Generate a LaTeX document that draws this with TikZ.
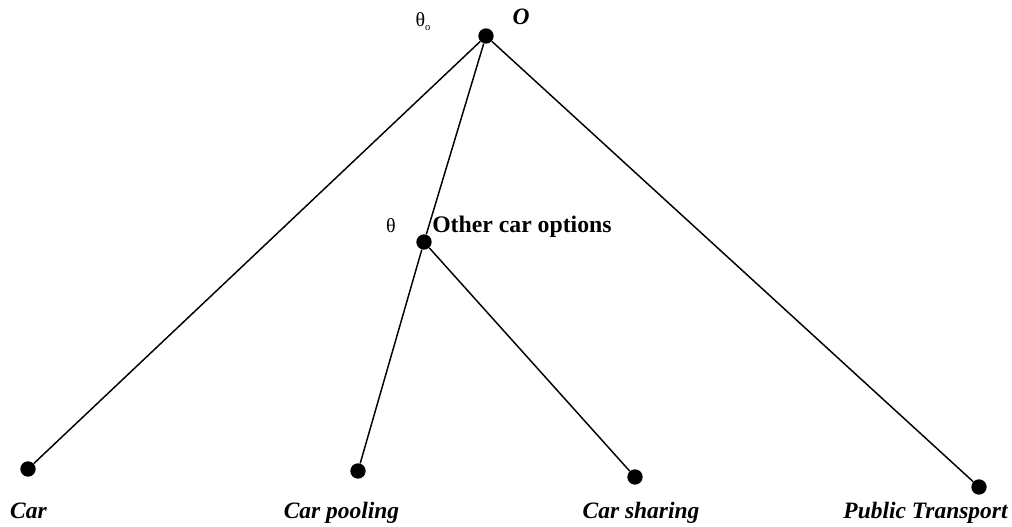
\documentclass[tikz,border=0pt]{standalone}
\usepackage{fontspec}
\setmainfont{Liberation Serif}

\begin{document}
\begin{tikzpicture}[x=0.75pt,y=-0.75pt,
        dot/.style={circle,fill=black,inner sep=0pt,minimum size=11.5pt},
        alt/.style={font=\fontsize{17.6}{20}\selectfont\bfseries\itshape,anchor=base,inner sep=0pt},
        par/.style={font=\fontsize{15}{18}\selectfont,anchor=base,inner sep=0pt}]
            \useasboundingbox (0,0) rectangle (1012,527);
            \node[dot] (root) at (486,36) {};
            \node[dot] (nest) at (424,242) {};
            \node[dot] (car) at (28,469) {};
            \node[dot] (pool) at (358,471) {};
            \node[dot] (share) at (635,477) {};
            \node[dot] (pt) at (979,487) {};
            \foreach \a/\b in {root/car,root/nest,root/pt,nest/pool,nest/share}{
                \draw[line width=1.1pt] (\a)--(\b);
            }
            \node[par] (theta0) at (423,27) {θ\raisebox{-0.35ex}{\fontsize{8}{9}\selectfont o}};
            \node[alt] (rootlbl) at (521,25) {O};
            \node[par] (theta) at (391,232) {θ};
            \node[alt,anchor=base west,font=\fontsize{17.8}{20}\selectfont\bfseries] (nestlbl) at (432,232) {Other car options};
            \node[alt] (carlbl) at (28.5,518) {Car};
            \node[alt] (poollbl) at (341.5,518) {Car pooling};
            \node[alt] (sharelbl) at (641,518) {Car sharing};
            \node[alt] (ptlbl) at (925.5,518) {Public Transport};
\end{tikzpicture}
\end{document}
